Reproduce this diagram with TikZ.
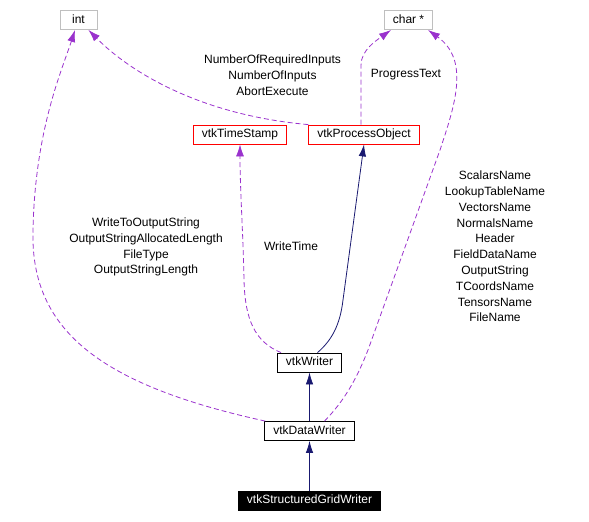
\documentclass[tikz,border=0pt]{standalone}
\usepackage{fontspec}
\setmainfont{Liberation Sans}
\usetikzlibrary{arrows.meta}
\definecolor{edgepurple}{HTML}{9A32CD}
\definecolor{edgenavy}{HTML}{191970}
\definecolor{boxgray}{HTML}{BFBFBF}
\tikzset{
        every node/.style={align=center,font=\fontsize{12}{15.8}\selectfont},
        classbox/.style={draw,line width=0.8pt,inner xsep=8.5pt,inner ysep=0pt,
                         minimum height=19pt,text height=8.6pt,text depth=2.5pt},
        usage/.style={edgepurple,line width=0.8pt,dash pattern=on 5pt off 3pt,
                      -{Latex[length=12pt,width=8pt]}},
        inherit/.style={edgenavy,line width=0.8pt,-{Latex[length=12pt,width=7.5pt]}},
        }

\begin{document}
\begin{tikzpicture}[x=1pt,y=-1pt]

		\useasboundingbox (0,0) rectangle (589,522);

		% external types...................
		\node [classbox, draw=boxgray, minimum width=37pt] (int) at (78.5,20) {int};
		\node [classbox, draw=boxgray] (chr) at (408.5,20) {char *};

		% used classes....................
		\node [classbox, draw=red] (ts) at (240,134.5) {vtkTimeStamp};
		\node [classbox, draw=red] (po) at (364,134.5) {vtkProcessObject};

		% writer chain....................
		\node [classbox] (vw) at (309.5,362.5) {vtkWriter};
		\node [classbox] (dw) at (309.5,431) {vtkDataWriter};
		\node [classbox, fill=black, text=white] (sgw) at (309.5,500.5) {vtkStructuredGridWriter};

		% inheritance.....................
		\draw [inherit] (sgw) to (dw);
		\draw [inherit] (dw) to (vw);
		\draw [inherit] (vw.north) ++(8,0) .. controls (332,340) and (340,325) .. (343,300) to (po.south);

		% members of vtkWriter.............
		\draw [usage] (vw.north west) ++(4,0) .. controls (255,342) and (245,320) .. (244,280)
		      .. controls (243,230) and (240,190) .. (ts.south);

		% members of vtkProcessObject......
		\draw [usage] (po.north west) .. controls (200,115) and (130,72) .. (int.-45);
		\draw [usage] (po.north) ++(-3,0) to (361,65) .. controls (361,50) and (377,40) .. (391,30);

		% members of vtkDataWriter.........
		\draw [usage] (dw.north west) ++(1,0) .. controls (100,385) and (30,330) .. (33,230)
		      .. controls (35,130) and (62,70) .. (75,30);
		\draw [usage] (dw.north) ++(15,0) .. controls (345,400) and (357,378) .. (368,350)
		      to (440,150) .. controls (455,105) and (470,60) .. (428,30);

		% labels..............................
		\node (lblpo) at (272.5,75.5) {NumberOfRequiredInputs\\NumberOfInputs\\AbortExecute};
		\node (lblpt) at (406,75) {ProgressText};
		\node (lblint) at (146,247) {WriteToOutputString\\OutputStringAllocatedLength\\FileType\\OutputStringLength};
		\node (lblwt) at (291,246) {WriteTime};
		\node (lblchr) at (495,246.5) {ScalarsName\\LookupTableName\\VectorsName\\NormalsName\\Header\\FieldDataName\\OutputString\\TCoordsName\\TensorsName\\FileName};

	\end{tikzpicture}
\end{document}
